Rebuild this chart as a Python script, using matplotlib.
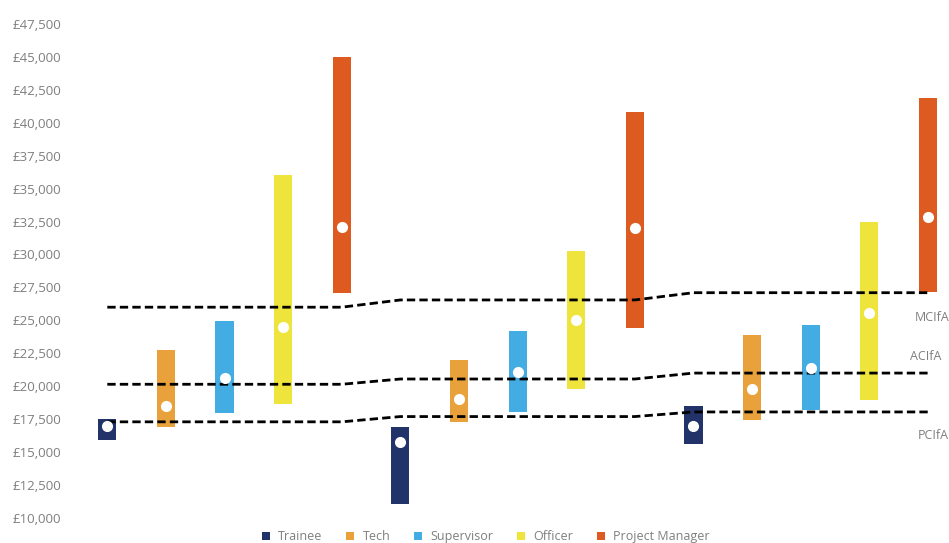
import matplotlib.pyplot as plt
from matplotlib.ticker import FuncFormatter

# salary ranges per role, one list per survey group
roles = ["Trainee", "Tech", "Supervisor", "Officer", "Project Manager"]
colors = ["#22336a", "#e9a23b", "#43ade3", "#eee43c", "#dd5a20"]

low = [
    [15900, 16900, 18000, 18650, 27100],
    [11050, 17300, 18050, 19800, 24450],
    [15600, 17450, 18200, 18950, 27150],
]
high = [
    [17500, 22750, 24950, 36050, 44950],
    [16900, 22000, 24200, 30300, 40850],
    [18500, 23900, 24650, 32500, 41900],
]
mid = [
    [16950, 18500, 20600, 24500, 32100],
    [15750, 19050, 21100, 25050, 32000],
    [16950, 19800, 21400, 25550, 32850],
]

# CIfA grade minimums at each of the 15 positions
mcifa = [26000] * 5 + [26550] * 5 + [27100] * 5
acifa = [20150] * 5 + [20550] * 5 + [21000] * 5
pcifa = [17300] * 5 + [17700] * 5 + [18050] * 5
grade_labels = ["MCIfA", "ACIfA", "PCIfA"]

plt.rcParams["font.family"] = ["Open Sans", "DejaVu Sans"]

fig = plt.figure(figsize=(9.49, 5.43), dpi=100)
ax = fig.add_axes([0.0822, 0.046, 0.9178, 0.91])

n = len(roles)
for g in range(len(low)):
    for i in range(n):
        x = g * n + i
        ax.bar(x, high[g][i] - low[g][i], bottom=low[g][i], width=0.31,
               color=colors[i], label=roles[i] if g == 0 else None, zorder=2)
        ax.plot(x, mid[g][i], "o", color="white", markersize=7, zorder=4)

xs = list(range(len(mcifa)))
for series in (mcifa, acifa, pcifa):
    ax.plot(xs, series, color="black", lw=2, dashes=(3, 1.5), zorder=3)

ax.text(13.78, 25200, grade_labels[0], fontsize=9, color="#7f7f7f", va="center", clip_on=False)
ax.text(13.69, 22250, grade_labels[1], fontsize=9, color="#7f7f7f", va="center", clip_on=False)
ax.text(13.83, 16300, grade_labels[2], fontsize=9, color="#7f7f7f", va="center", clip_on=False)

ax.set_xlim(-0.5, 14.36)
ax.set_ylim(10000, 47500)
ax.set_yticks(range(10000, 47501, 2500))
ax.yaxis.set_major_formatter(FuncFormatter(lambda v, p: f"£{v:,.0f}"))
ax.tick_params(axis="y", length=0, pad=12, labelsize=9.5, labelcolor="#7f7f7f")
ax.set_xticks([])
for s in ax.spines.values():
    s.set_visible(False)

fig.legend(loc="center", bbox_to_anchor=(486 / 949, 0.012), ncol=5, frameon=False,
           fontsize=9, labelcolor="#7f7f7f", handlelength=0.6, handleheight=0.6,
           columnspacing=1.9, handletextpad=0.7)

plt.savefig("out.png")
